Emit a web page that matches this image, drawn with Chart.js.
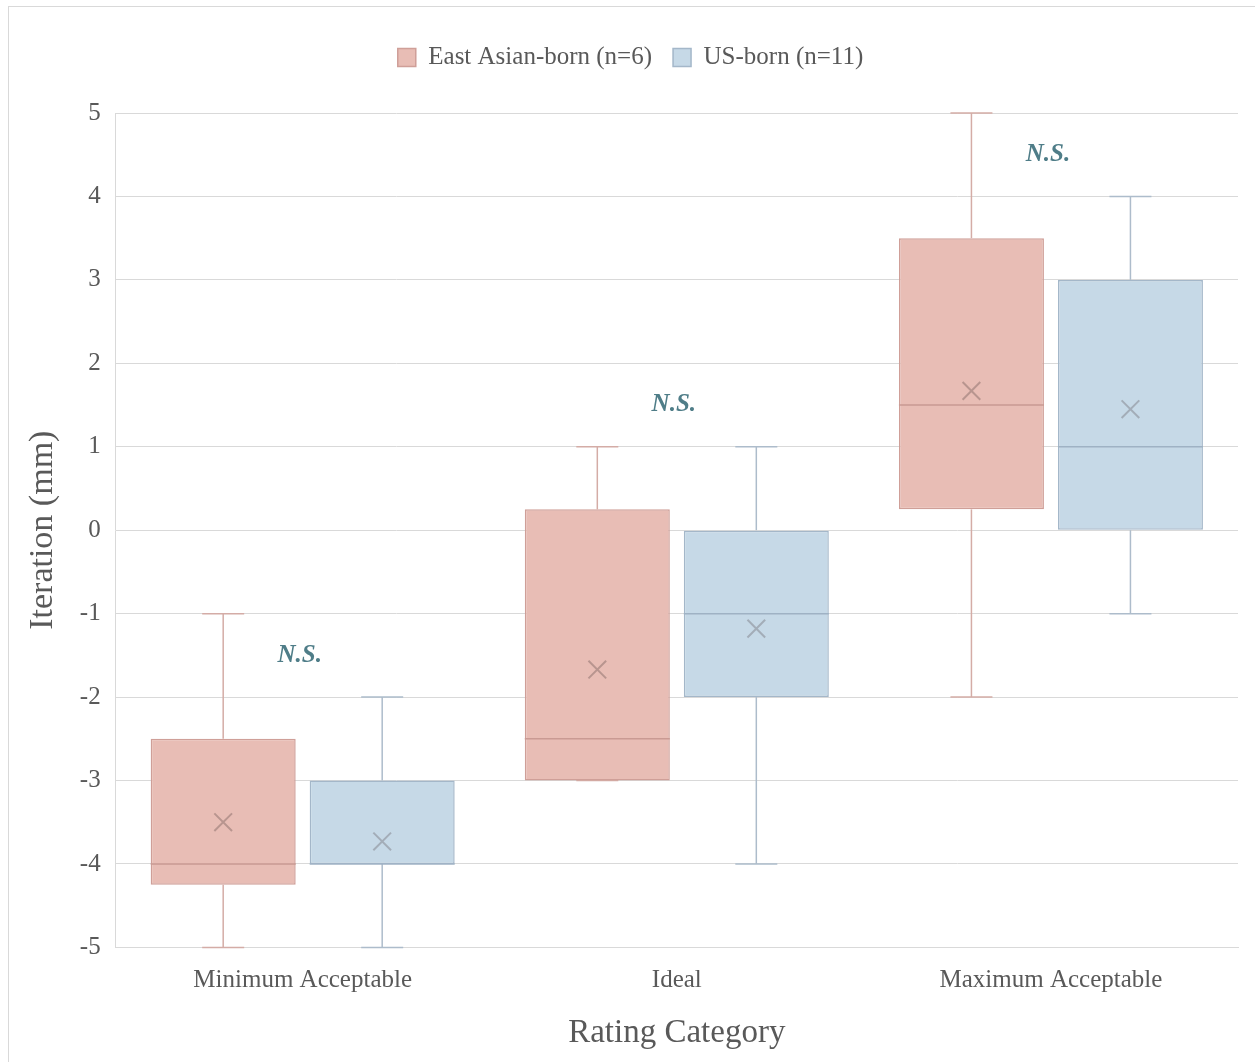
<!DOCTYPE html>
<html>
<head>
<meta charset="utf-8">
<script src="https://cdn.jsdelivr.net/npm/chart.js@4.4.1/dist/chart.umd.min.js"></script>
<style>
    html, body { margin: 0; padding: 0; background: #ffffff; overflow: hidden; }
    #frame {
        position: absolute; left: 8px; top: 6px; width: 1260px; height: 1070px;
        border: 1px solid #d9d9d9; box-sizing: border-box;
    }
    #wrap { position: absolute; left: 0; top: 0; width: 1255px; height: 1062px; }
</style>
</head>
<body>
<div id="frame"></div>
<div id="wrap"><canvas id="chart"></canvas></div>
<script>
    const categories = ["Minimum Acceptable", "Ideal", "Maximum Acceptable"];

    // East Asian-born (n=6)
    const eastMin = [-5, -3, -2];
    const eastQ1 = [-4.25, -3, 0.25];
    const eastMedian = [-4, -2.5, 1.5];
    const eastQ3 = [-2.5, 0.25, 3.5];
    const eastMax = [-1, 1, 5];
    const eastMean = [-3.5, -1.67, 1.67];

    // US-born (n=11)
    const usMin = [-5, -4, -1];
    const usQ1 = [-4, -2, 0];
    const usMedian = [-4, -1, 1];
    const usQ3 = [-3, 0, 3];
    const usMax = [-2, 1, 4];
    const usMean = [-3.73, -1.18, 1.45];

    const nsLabel = "N.S.";
    const nsY = [-1.5, 1.5, 4.5];

    const yTicks = [-5, -4, -3, -2, -1, 0, 1, 2, 3, 4, 5];

    const FONT = "'Liberation Serif', 'DejaVu Serif', serif";
    const TEXT = "#595959";

    const groups = [
        {
            label: "East Asian-born (n=6)",
            min: eastMin, q1: eastQ1, median: eastMedian, q3: eastQ3, max: eastMax, mean: eastMean,
            fill: "#e8bdb5", border: "#cf9f98", whisker: "#d4aca6", medianColor: "#c99a93", meanColor: "#b8958f",
        },
        {
            label: "US-born (n=11)",
            min: usMin, q1: usQ1, median: usMedian, q3: usQ3, max: usMax, mean: usMean,
            fill: "#c6d9e7", border: "#a4b7c9", whisker: "#adbccb", medianColor: "#9fb2c4", meanColor: "#a3adb8",
        },
    ];

    function line(ctx, x1, y1, x2, y2) {
        ctx.beginPath();
        ctx.moveTo(x1, y1);
        ctx.lineTo(x2, y2);
        ctx.stroke();
    }

    // extra room under the legend
    const legendGap = {
        id: "legendGap",
        beforeInit(chart) {
            const fit = chart.legend.fit;
            chart.legend.fit = function () {
                fit.bind(chart.legend)();
                this.height += 33;
            };
        },
    };

    const boxExtras = {
        id: "boxExtras",
        beforeDatasetsDraw(chart) {
            const ctx = chart.ctx;
            const y = chart.scales.y;
            groups.forEach((g, i) => {
                chart.getDatasetMeta(i).data.forEach((bar, j) => {
                    const x = bar.x;
                    const cap = 21;
                    ctx.save();
                    ctx.strokeStyle = g.whisker;
                    ctx.lineWidth = 1.5;
                    const yMax = y.getPixelForValue(g.max[j]);
                    const yMin = y.getPixelForValue(g.min[j]);
                    line(ctx, x, y.getPixelForValue(g.q3[j]), x, yMax);
                    line(ctx, x, y.getPixelForValue(g.q1[j]), x, yMin);
                    line(ctx, x - cap, yMax, x + cap, yMax);
                    line(ctx, x - cap, yMin, x + cap, yMin);
                    ctx.restore();
                });
            });
        },
        afterDatasetsDraw(chart) {
            const ctx = chart.ctx;
            const xs = chart.scales.x;
            const y = chart.scales.y;
            groups.forEach((g, i) => {
                chart.getDatasetMeta(i).data.forEach((bar, j) => {
                    const x = bar.x;
                    const half = bar.width / 2;
                    ctx.save();
                    ctx.strokeStyle = g.medianColor;
                    ctx.lineWidth = 1.5;
                    const ym = y.getPixelForValue(g.median[j]);
                    line(ctx, x - half, ym, x + half, ym);
                    ctx.strokeStyle = g.meanColor;
                    ctx.lineWidth = 2;
                    Chart.helpers.drawPoint(ctx, { pointStyle: "crossRot", radius: 12.5, borderWidth: 2, rotation: 0 },
                        x, y.getPixelForValue(g.mean[j]));
                    ctx.restore();
                });
            });
            ctx.save();
            ctx.fillStyle = "#4f7d88";
            ctx.font = "italic bold 25px " + FONT;
            ctx.textAlign = "center";
            ctx.textBaseline = "middle";
            categories.forEach((c, j) => {
                ctx.fillText(nsLabel, xs.getPixelForValue(j) - 3, y.getPixelForValue(nsY[j]));
            });
            ctx.restore();
        },
    };

    const ctx = document.getElementById("chart").getContext("2d");
    new Chart(ctx, {
        type: "bar",
        data: {
            labels: categories,
            datasets: groups.map((g) => ({
                label: g.label,
                data: g.q1.map((v, j) => [v, g.q3[j]]),
                backgroundColor: g.fill,
                borderColor: g.border,
                borderWidth: 1.5,
                borderSkipped: false,
                categoryPercentage: 0.85,
                barPercentage: 0.912,
            })),
        },
        options: {
            responsive: true,
            maintainAspectRatio: false,
            animation: false,
            layout: {
                padding: { top: 24, right: 17, bottom: 9, left: 23 },
            },
            plugins: {
                tooltip: { enabled: false },
                legend: {
                    position: "top",
                    labels: {
                        boxWidth: 18,
                        boxHeight: 18,
                        padding: 21,
                        color: TEXT,
                        font: { family: FONT, size: 25 },
                    },
                },
            },
            scales: {
                x: {
                    grid: { display: false, drawTicks: false },
                    border: { display: true, color: "#d9d9d9" },
                    ticks: {
                        color: TEXT,
                        padding: 18,
                        font: { family: FONT, size: 25 },
                    },
                    title: {
                        display: true,
                        text: "Rating Category",
                        color: TEXT,
                        padding: { top: 0, bottom: 0 },
                        font: { family: FONT, size: 33 },
                    },
                },
                y: {
                    min: -5,
                    max: 5,
                    afterBuildTicks(axis) {
                        axis.ticks = yTicks.map((v) => ({ value: v }));
                    },
                    grid: { color: "#d9d9d9", drawTicks: false },
                    border: { display: true, color: "#d9d9d9" },
                    ticks: {
                        color: TEXT,
                        padding: 15,
                        font: { family: FONT, size: 25 },
                    },
                    title: {
                        display: true,
                        text: "Iteration (mm)",
                        color: TEXT,
                        padding: { top: 0, bottom: 1 },
                        font: { family: FONT, size: 34 },
                    },
                },
            },
        },
        plugins: [legendGap, boxExtras],
    });
</script>
</body>
</html>
